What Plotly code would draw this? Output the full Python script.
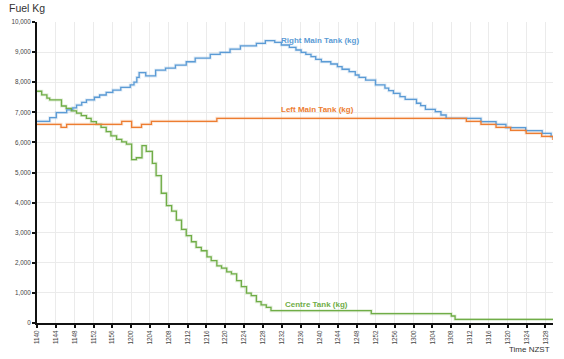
import plotly.graph_objects as go

# Tick labels (time NZST, HHMM) every 4 minutes
tick_labels = ["1140", "1144", "1148", "1152", "1156", "1200", "1204", "1208", "1212",
               "1216", "1220", "1224", "1228", "1232", "1236", "1240", "1244", "1248",
               "1252", "1256", "1300", "1304", "1308", "1312", "1316", "1320", "1324", "1328"]

# Step series: minutes after 11:40 and fuel (kg)
right_t = [0, 2.7, 4.1, 6.3, 7.6, 8.4, 9.5, 10.5, 12.2, 13.3, 14.7, 16.1, 17.8, 19.8, 20.6,
           21.2, 21.7, 23.1, 25.2, 27.3, 29.4, 31.7, 33.6, 36.8, 38.9, 41.0, 43.2, 46.6,
           48.5, 50.5, 51.9, 53.6, 55.0, 56.1, 57.1, 58.2, 59.2, 60.4, 62.4, 63.8, 64.8,
           66.3, 67.6, 68.4, 69.8, 71.9, 73.9, 74.7, 75.7, 77.1, 78.2, 80.6, 81.5, 82.5,
           84.6, 85.8, 86.9, 94.3, 97.5, 99.6, 103.8, 107.3, 109.2, 109.6]
right_kg = [6700, 6820, 6990, 7080, 7150, 7240, 7330, 7410, 7500, 7575, 7660, 7740, 7830,
            7910, 8000, 8160, 8320, 8210, 8400, 8470, 8570, 8680, 8800, 8925, 8990, 9100,
            9210, 9290, 9380, 9325, 9236, 9160, 9070, 8990, 8925, 8850, 8760, 8680, 8605,
            8515, 8430, 8350, 8240, 8160, 8070, 7910, 7800, 7720, 7630, 7520, 7430, 7300,
            7220, 7100, 7020, 6910, 6800, 6690, 6600, 6490, 6390, 6300, 6190, 6190]

left_t = [0, 5.1, 6.3, 18.0, 20.1, 22.2, 24.3, 38.2, 91.2, 94.3, 97.5, 100.6, 103.9,
          107.2, 109.6]
left_kg = [6600, 6500, 6600, 6700, 6500, 6600, 6700, 6800, 6700, 6600, 6500, 6400, 6300,
           6200, 6080]

centre_t = [0, 1.0, 2.1, 2.7, 5.2, 6.2, 7.3, 8.4, 9.4, 10.5, 11.5, 12.6, 13.6, 14.7, 15.7,
            16.9, 18.0, 19.0, 20.1, 21.1, 22.3, 23.2, 24.5, 25.3, 26.4, 27.5, 28.6, 29.6,
            30.7, 31.7, 32.8, 33.8, 34.9, 36.1, 37.0, 38.2, 39.2, 40.3, 41.3, 42.4, 43.4,
            44.5, 45.5, 46.6, 47.6, 48.7, 49.7, 71.0, 88.0, 88.8, 109.6]
centre_kg = [7700, 7580, 7470, 7410, 7210, 7130, 7050, 6970, 6890, 6800, 6690, 6600, 6500,
             6360, 6220, 6100, 6020, 5940, 5430, 5490, 5890, 5700, 5305, 4894, 4310, 3900,
             3720, 3420, 3110, 2900, 2700, 2510, 2400, 2200, 2070, 1900, 1820, 1700, 1630,
             1405, 1206, 990, 907, 708, 600, 522, 409, 310, 232, 120, 120]

series = [
    ("Right Main Tank (kg)", right_t, right_kg, "#5B9BD5"),
    ("Left Main Tank (kg)", left_t, left_kg, "#ED7D31"),
    ("Centre Tank (kg)", centre_t, centre_kg, "#70AD47"),
]

def minutes(lbl):
    return int(lbl[:2]) * 60 + int(lbl[2:]) - (11 * 60 + 40)

tick_vals = [minutes(l) for l in tick_labels]

FONT = "Liberation Sans, Arial, sans-serif"

fig = go.Figure()
for name, t, v, c in series:
    fig.add_trace(go.Scatter(x=t, y=v, mode="lines", line=dict(shape="hv", color=c, width=3),
                             opacity=0.2, hoverinfo="skip", showlegend=False))
for name, t, v, c in [series[0], series[2], series[1]]:
    fig.add_trace(go.Scatter(x=t, y=v, mode="lines", name=name,
                             line=dict(shape="hv", color=c, width=1.3), showlegend=False))

lab_font = dict(family=FONT, size=8)
fig.add_annotation(x=60.1, y=9380, text="<b>Right Main Tank (kg)</b>", showarrow=False,
                   font=dict(lab_font, color="#5B9BD5"))
fig.add_annotation(x=59.6, y=7100, text="<b>Left Main Tank (kg)</b>", showarrow=False,
                   font=dict(lab_font, color="#ED7D31"))
fig.add_annotation(x=59.3, y=631, text="<b>Centre Tank (kg)</b>", showarrow=False,
                   font=dict(lab_font, color="#70AD47"))
fig.add_annotation(xref="paper", yref="paper", x=-0.058, y=1.0465, xanchor="left",
                   yanchor="middle", text="Fuel Kg", showarrow=False,
                   font=dict(family=FONT, size=10.5, color="#333"))
fig.add_annotation(xref="paper", yref="paper", x=0.9975, y=-0.0897, xanchor="right",
                   yanchor="middle", text="Time NZST", showarrow=False,
                   font=dict(family=FONT, size=8, color="#333"))

fig.update_xaxes(range=[0, 109.6], tickvals=tick_vals, ticktext=tick_labels, tickangle=-90,
                 showgrid=True, gridcolor="#ebebeb", gridwidth=1, showline=True,
                 linecolor="#111", linewidth=2, ticks="outside", ticklen=3, tickwidth=1.5,
                 tickcolor="#111", zeroline=False,
                 tickfont=dict(family=FONT, size=6.3, color="#444"))
fig.update_yaxes(range=[0, 10000], dtick=1000, tickformat=",d", showgrid=True,
                 gridcolor="#ebebeb", gridwidth=1, showline=True, linecolor="#111",
                 linewidth=2, ticks="outside", ticklen=3, tickwidth=1.5, tickcolor="#111",
                 zeroline=False,
                 tickfont=dict(family=FONT, size=6.3, color="#444"))

fig.update_layout(width=564, height=359, margin=dict(l=32, r=11, t=22, b=36),
                  paper_bgcolor="white", plot_bgcolor="white")
fig.write_html("out.html", config={"displayModeBar": False},
               post_script="document.body.style.margin='0';document.body.style.overflow='hidden';")
